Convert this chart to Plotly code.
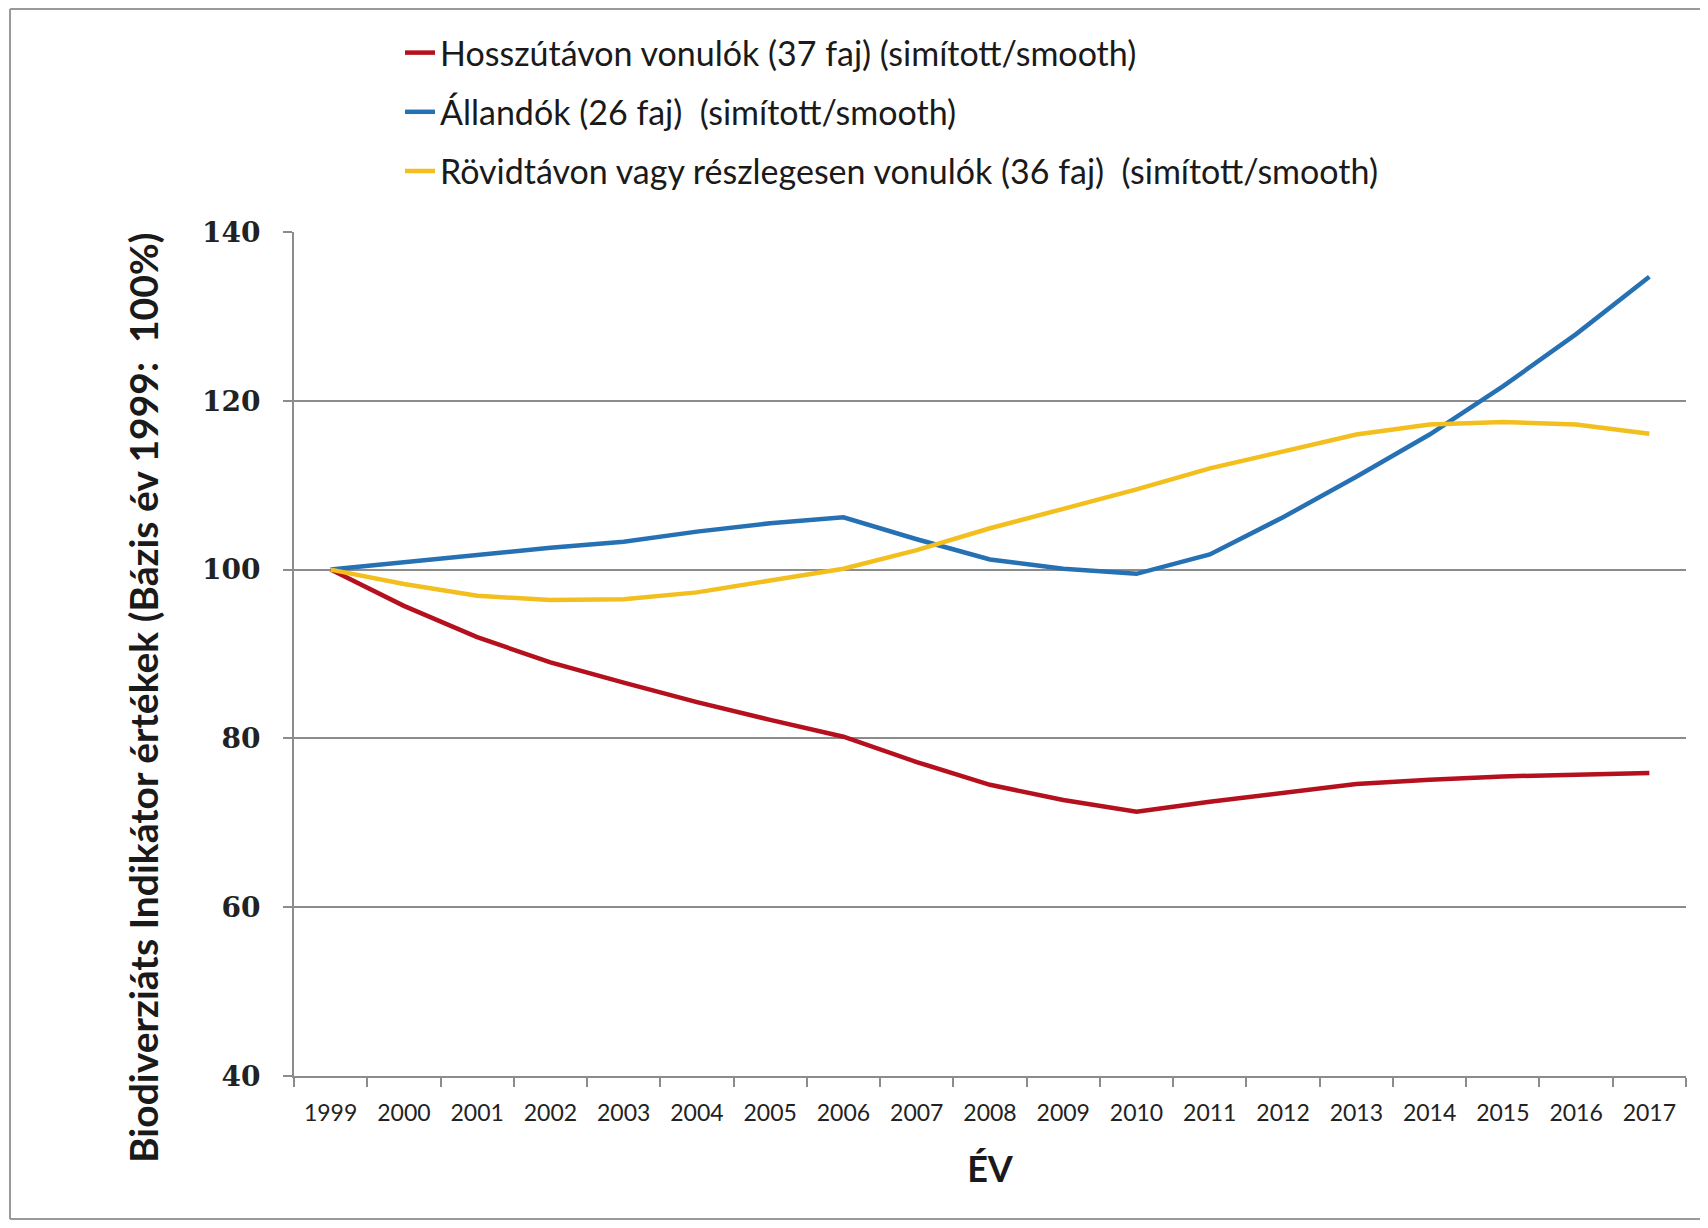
import plotly.graph_objects as go

years = [str(y) for y in range(1999, 2018)]

series_names = [
    "Hosszútávon vonulók (37 faj) (simított/smooth)",
    "Állandók (26 faj)  (simított/smooth)",
    "Rövidtávon vagy részlegesen vonulók (36 faj)  (simított/smooth)",
]

long_distance = [100.0, 95.7, 92.0, 89.0, 86.6, 84.3, 82.2, 80.2, 77.2, 74.5,
                 72.7, 71.3, 72.5, 73.6, 74.6, 75.1, 75.5, 75.7, 75.9]
resident = [100.0, 100.9, 101.8, 102.6, 103.3, 104.5, 105.5, 106.2, 103.6, 101.2,
            100.1, 99.5, 101.8, 106.2, 111.0, 116.0, 121.7, 127.9, 134.7]
short_distance = [100.0, 98.3, 96.9, 96.4, 96.5, 97.3, 98.7, 100.1, 102.3, 104.9,
                  107.2, 109.5, 112.0, 114.0, 116.0, 117.2, 117.5, 117.2, 116.1]

colors = ["#B5101D", "#2671B3", "#F2BF1E"]

y_ticks = [40, 60, 80, 100, 120, 140]
x_title = "ÉV"
y_title = "Biodiverziáts Indikátor értékek (Bázis év 1999:  100%)"

# the page has an 8px body margin; keep the figure inside the window (no scrollbars)
W, H = 1700, 1212
L, R, T, B = 286, 22, 224, 144

fig = go.Figure()
for i, (name, vals) in enumerate(zip(series_names, [long_distance, resident, short_distance])):
    fig.add_trace(go.Scatter(
        x=years, y=vals, mode="lines", name=name,
        line=dict(color=colors[i], width=4.5),
        legendgroup=f"g{i}",
    ))

fig.update_layout(
    width=W, height=H,
    margin=dict(l=L, r=R, t=T, b=B, autoexpand=False),
    paper_bgcolor="white", plot_bgcolor="white",
    font=dict(family="Lato", color="#1a1a1a"),
    showlegend=True,
    legend=dict(
        xref="container", yref="container",
        x=392 / W, y=1 - 16 / H, xanchor="left", yanchor="top",
        orientation="v",
        font=dict(family="Lato", size=34, color="#1a1a1a"),
        tracegroupgap=12,
        bgcolor="rgba(0,0,0,0)",
        itemwidth=30,
    ),
)

fig.update_xaxes(
    type="category", range=[-0.5, len(years) - 0.5], automargin=False,
    showline=True, linecolor="#8c8c8c", linewidth=2,
    ticks="outside", tickson="boundaries", ticklen=9, tickcolor="#8c8c8c", tickwidth=1.5,
    showgrid=False,
    tickfont=dict(family="Lato", size=23, color="#222"),
    ticklabelstandoff=15,
    title=dict(text=x_title, font=dict(family="Lato", size=36, color="#1a1a1a", weight="bold"),
               standoff=32),
)
fig.update_yaxes(
    range=[40, 140], tickvals=y_ticks, automargin=False,
    showline=True, linecolor="#8c8c8c", linewidth=2,
    ticks="outside", ticklen=9, tickcolor="#8c8c8c", tickwidth=1.5,
    showgrid=True, gridcolor="#8c8c8c", gridwidth=1.5,
    zeroline=False,
    tickfont=dict(family="DejaVu Serif", size=28, color="#222", weight="bold"),
    ticklabelstandoff=17,
)

# y-axis title
fig.add_annotation(
    text=y_title, xref="paper", yref="paper", x=0, y=0.5,
    xanchor="center", yanchor="middle", textangle=-90,
    xshift=-151, yshift=-44, showarrow=False,
    font=dict(family="Lato", size=39, color="#1a1a1a", weight="bold"),
)

# outer chart frame (top, left, bottom edges; right edge lies outside the picture)
pw, ph = W - L - R, H - T - B
fx0, fx1 = (2 - L) / pw, 1 + R / pw
fy0, fy1 = -(B - 1) / ph, 1 + (T - 1) / ph
frame = dict(color="#9a9a9a", width=2)
fig.add_shape(type="line", xref="paper", yref="paper", x0=fx0, x1=fx1, y0=fy1, y1=fy1, line=frame)
fig.add_shape(type="line", xref="paper", yref="paper", x0=fx0, x1=fx0, y0=fy0, y1=fy1, line=frame)
fig.add_shape(type="line", xref="paper", yref="paper", x0=fx0, x1=fx1, y0=fy0, y1=fy0, line=frame)

fig.write_html("out.html")
